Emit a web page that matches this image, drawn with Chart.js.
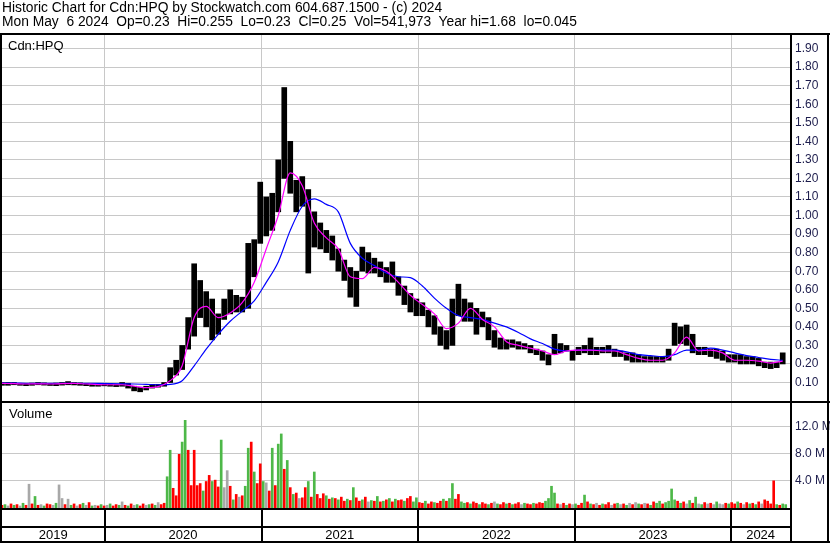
<!DOCTYPE html>
<html>
<head>
<script src="https://cdn.jsdelivr.net/npm/chart.js@4/dist/chart.umd.min.js"></script>
<style>
html, body { margin: 0; padding: 0; background: #fff; }
#wrap { position: relative; width: 830px; height: 543px; overflow: hidden; }
#chart { position: absolute; left: 0; top: 0; }
#hdr {
    position: absolute; left: 2px; top: 1px;
    font: 13.8px 'Liberation Sans', Arial, sans-serif;
    line-height: 14px; white-space: pre; color: #000;
}
</style>
</head>
<body>
<div id="wrap">
    <canvas id="chart" width="830" height="543"></canvas>
    <div id="hdr">Historic Chart for Cdn:HPQ by Stockwatch.com 604.687.1500 - (c) 2024
Mon May  6 2024  Op=0.23  Hi=0.255  Lo=0.23  Cl=0.25  Vol=541,973  Year hi=1.68  lo=0.045</div>
</div>
<script>
// day 0 = 2019-05-07, price bars every 14 days, MAs every 28, volume every 7
const startDay = 0;
const endDay = 1837;
const priceStep = 14;
const maStep = 28;
const volStep = 7;

const yearLabels = ['2019', '2020', '2021', '2022', '2023', '2024'];
const yearStarts = [239, 605, 970, 1335, 1700];
const priceTicks = [0.1, 0.2, 0.3, 0.4, 0.5, 0.6, 0.7, 0.8, 0.9, 1.0, 1.1, 1.2, 1.3, 1.4, 1.5, 1.6, 1.7, 1.8, 1.9];
const volTicks = [4, 8, 12];

const priceHigh = [
    0.10, 0.10, 0.10, 0.095, 0.095, 0.097, 0.10, 0.098, 0.095, 0.097,
    0.10, 0.105, 0.10, 0.098, 0.095, 0.093, 0.093, 0.095, 0.093, 0.09,
    0.10, 0.095, 0.08, 0.075, 0.08, 0.09, 0.09, 0.10, 0.18, 0.22,
    0.30, 0.45, 0.74, 0.65, 0.59, 0.55, 0.47, 0.55, 0.60, 0.57,
    0.56, 0.85, 0.87, 1.18, 1.10, 1.12, 1.30, 1.69, 1.40, 1.19,
    1.21, 1.14, 1.02, 0.96, 0.92, 0.89, 0.82, 0.76, 0.72, 0.70,
    0.83, 0.80, 0.77, 0.75, 0.72, 0.75, 0.67, 0.62, 0.58, 0.55,
    0.53, 0.49, 0.46, 0.40, 0.38, 0.55, 0.63, 0.55, 0.53, 0.50,
    0.48, 0.45, 0.38, 0.34, 0.33, 0.33, 0.32, 0.31, 0.30, 0.28,
    0.27, 0.25, 0.36, 0.31, 0.30, 0.27, 0.29, 0.30, 0.34, 0.29,
    0.29, 0.30, 0.28, 0.27, 0.26, 0.26, 0.25, 0.24, 0.24, 0.24,
    0.24, 0.28, 0.42, 0.40, 0.41, 0.36, 0.29, 0.29, 0.28, 0.28,
    0.27, 0.25, 0.25, 0.25, 0.24, 0.24, 0.23, 0.21, 0.21, 0.21, 0.26
];
const priceLow = [
    0.085, 0.085, 0.088, 0.085, 0.083, 0.085, 0.088, 0.086, 0.084, 0.083,
    0.086, 0.088, 0.087, 0.085, 0.083, 0.08, 0.08, 0.082, 0.08, 0.078,
    0.08, 0.07, 0.055, 0.05, 0.06, 0.07, 0.075, 0.08, 0.10, 0.14,
    0.17, 0.28, 0.35, 0.45, 0.40, 0.33, 0.36, 0.44, 0.47, 0.48,
    0.48, 0.50, 0.67, 0.85, 0.89, 0.92, 1.02, 1.20, 1.12, 1.02,
    1.05, 0.69, 0.83, 0.82, 0.80, 0.76, 0.70, 0.65, 0.56, 0.51,
    0.70, 0.69, 0.69, 0.67, 0.64, 0.64, 0.57, 0.52, 0.48, 0.46,
    0.46, 0.40, 0.36, 0.30, 0.28, 0.30, 0.46, 0.43, 0.43, 0.36,
    0.40, 0.33, 0.29, 0.28, 0.28, 0.29, 0.28, 0.28, 0.26, 0.25,
    0.22, 0.195, 0.25, 0.26, 0.27, 0.22, 0.25, 0.26, 0.25, 0.25,
    0.26, 0.26, 0.24, 0.24, 0.22, 0.21, 0.21, 0.21, 0.21, 0.21,
    0.21, 0.22, 0.30, 0.31, 0.30, 0.26, 0.25, 0.25, 0.24, 0.23,
    0.22, 0.21, 0.21, 0.20, 0.20, 0.20, 0.19, 0.18, 0.175, 0.18, 0.20
];

// short (magenta) and long (blue) moving averages
const maShort = [
    0.095, 0.094, 0.092, 0.093, 0.092, 0.094, 0.095, 0.092, 0.089, 0.088,
    0.088, 0.080, 0.072, 0.078, 0.11, 0.19, 0.45, 0.51, 0.45, 0.475,
    0.53, 0.64, 0.82, 1.00, 1.23, 1.16, 0.96, 0.88, 0.82, 0.67,
    0.66, 0.72, 0.70, 0.64, 0.57, 0.52, 0.47, 0.39, 0.42, 0.50,
    0.44, 0.40, 0.32, 0.30, 0.285, 0.27, 0.25, 0.27, 0.275, 0.275,
    0.27, 0.27, 0.25, 0.23, 0.22, 0.22, 0.26, 0.345, 0.27, 0.275,
    0.26, 0.22, 0.22, 0.215, 0.205, 0.215
];
const maLong = [
    0.097, 0.097, 0.096, 0.096, 0.096, 0.096, 0.096, 0.096, 0.095, 0.094,
    0.093, 0.092, 0.090, 0.088, 0.090, 0.11, 0.19, 0.28, 0.36, 0.43,
    0.485, 0.54, 0.64, 0.75, 0.92, 1.05, 1.09, 1.06, 1.02, 0.85,
    0.77, 0.73, 0.69, 0.67, 0.665, 0.62, 0.555, 0.50, 0.46, 0.45,
    0.44, 0.42, 0.40, 0.37, 0.335, 0.31, 0.28, 0.27, 0.275, 0.275,
    0.275, 0.275, 0.265, 0.25, 0.245, 0.24, 0.25, 0.275, 0.275, 0.285,
    0.275, 0.26, 0.245, 0.235, 0.225, 0.22
];

// volume in millions, colour code per bar: r = down, g = up, s = unchanged
const volume = [
    0.4, 0.5, 0.3, 0.6, 0.4, 0.5, 0.3, 0.7, 0.4, 3.5,
    0.6, 1.7, 0.4, 0.5, 0.3, 0.6, 0.5, 0.4, 0.7, 3.4,
    1.4, 0.5, 1.3, 0.4, 0.6, 0.3, 0.5, 0.7, 0.4, 0.8,
    0.3, 0.4, 0.3, 0.5, 0.3, 0.4, 0.6, 0.3, 0.5, 0.4,
    0.9, 0.4, 0.3, 0.6, 0.4, 0.5, 0.3, 0.6, 0.4, 0.5,
    0.6, 0.4, 0.8, 0.5, 0.7, 4.6, 8.5, 2.9, 1.8, 7.9,
    9.7, 12.9, 8.5, 3.3, 8.5, 3.3, 3.6, 2.5, 3.9, 4.8,
    3.9, 4.1, 3.1, 10.0, 3.0, 5.5, 3.2, 1.2, 2.0, 1.6,
    1.8, 3.2, 8.8, 9.7, 5.3, 3.6, 6.5, 3.9, 3.7, 2.5,
    8.8, 3.3, 9.4, 10.9, 5.7, 7.0, 3.0, 2.0, 2.2, 1.4,
    1.5, 3.0, 3.9, 1.6, 5.3, 2.0, 1.4, 2.1, 1.8, 1.3,
    1.5, 1.4, 1.2, 1.6, 1.0, 1.3, 1.1, 3.0, 1.5, 1.0,
    1.2, 1.6, 0.9, 1.1, 1.0, 1.7, 0.9, 1.0, 1.2, 1.4,
    0.9, 1.3, 1.1, 1.2, 1.0, 1.4, 1.7, 0.9, 1.5, 0.8,
    0.7, 1.0, 0.6, 0.9, 0.8, 0.7, 1.0, 1.3, 1.0, 1.4,
    3.6, 1.3, 2.0, 0.9, 0.7, 0.8, 0.6, 0.9, 0.7, 0.5,
    0.8, 0.6, 0.5, 0.7, 0.9, 0.6, 0.5, 0.8, 0.6, 0.7,
    0.5, 0.6, 0.8, 0.5, 0.7, 0.6, 0.5, 0.7, 0.6, 0.8,
    0.7, 1.0, 1.4, 3.2, 2.2, 0.6, 0.5, 0.7, 0.4, 0.6,
    0.5, 0.6, 0.4, 0.7, 1.9, 0.9, 0.6, 0.5, 0.7, 0.4,
    0.6, 0.5, 0.8, 0.4, 0.6, 0.7, 0.5, 0.6, 0.4, 0.7,
    0.5, 0.8, 0.6, 0.5, 0.7, 0.6, 0.4, 0.9, 0.7, 1.0,
    0.6, 0.8, 1.0, 2.8, 1.2, 1.0, 0.7, 0.9, 0.6, 1.1,
    0.7, 1.6, 0.6, 0.5, 0.8, 0.6, 0.7, 0.5, 0.9, 0.6,
    0.5, 0.7, 0.6, 0.8, 0.6, 0.9, 0.7, 0.5, 0.8, 0.6,
    0.7, 0.5, 0.9, 0.6, 1.2, 1.0, 0.6, 4.0, 0.5, 0.4, 0.6, 0.5
];
const volDir =
    'rgsrgrsgrs' + 'rgrsgrrsgs' + 'srsgrsrgsr' + 'gsrgrsgrrg' + 'srgrsgrrsg' +
    'rgsrrggrrr' + 'ggrrrrrgrr' + 'grrgssrgrs' + 'rggrgrrgsr' + 'grggrgrgrs' +
    'rrgrgrrrgr' + 'grgrrgrgrr' + 'grsgrgrgrg' + 'rgrrgrrggr' + 'rgrrgrrgrg' +
    'grrggrgrrg' + 'rrgrsgrrgr' + 'grrsgrrgrr' + 'rggggrsrgr' + 'sgrrgrgrsr' +
    'grrsrgsrgs' + 'rsgrsrgrgg' + 'rggggrgrsg' + 'rgsgrsrsgs' + 'srgrrgrsrg' +
    'rgrsrrrrgrgg';

const dirColors = { r: '#ff0000', g: '#4db848', s: '#a8a8a8' };
const tickColor = '#1c1c4c';
const gridColor = '#c8c8c8';
const fontFamily = "'Liberation Sans', Arial, sans-serif";

const priceBars = priceHigh.map((hi, i) => ({ x: startDay + i * priceStep, y: [priceLow[i], hi] }));
const shortLine = maShort.map((v, i) => ({ x: startDay + i * maStep, y: v }));
const longLine = maLong.map((v, i) => ({ x: startDay + i * maStep, y: v }));
const volBars = volume.map((v, i) => ({ x: startDay + i * volStep, y: v }));
const volColors = volume.map((v, i) => dirColors[volDir[i]] || dirColors.s);

// frame, bottom year strip and panel captions
const framePlugin = {
    id: 'frame',
    afterDraw(chart) {
        const { ctx, chartArea, scales } = chart;
        const W = chart.width, H = chart.height;
        const right = chartArea.right;
        const sep = scales.yv.top;
        const bot = chartArea.bottom;
        const line = (x1, y1, x2, y2) => {
            ctx.beginPath(); ctx.moveTo(x1, y1); ctx.lineTo(x2, y2); ctx.stroke();
        };
        ctx.save();
        ctx.strokeStyle = '#000';
        ctx.lineWidth = 2;
        line(0, 34, W, 34);
        line(1, 33, 1, H);
        line(right + 1, 33, right + 1, H);
        line(W - 2, 33, W - 2, H);
        line(0, sep, W, sep);
        line(0, bot + 1, right, bot + 1);
        line(0, 527, right, 527);
        line(0, H - 1, W, H - 1);
        yearStarts.forEach(d => {
            const px = Math.round(scales.x.getPixelForValue(d));
            line(px, bot + 1, px, H);
        });

        ctx.fillStyle = '#000';
        ctx.font = '13px ' + fontFamily;
        ctx.textAlign = 'center';
        ctx.textBaseline = 'middle';
        const edges = [scales.x.min, ...yearStarts, scales.x.max];
        yearLabels.forEach((lab, i) => {
            const a = scales.x.getPixelForValue(edges[i]);
            const b = scales.x.getPixelForValue(edges[i + 1]);
            ctx.fillText(lab, (a + b) / 2, 535);
        });
        ctx.textAlign = 'left';
        ctx.textBaseline = 'alphabetic';
        ctx.fillText('Cdn:HPQ', 8, 50);
        ctx.fillText('Volume', 9, 418);
        ctx.restore();
    }
};

new Chart(document.getElementById('chart'), {
    data: {
        datasets: [
            {
                type: 'line', data: shortLine, yAxisID: 'y', order: 1,
                borderColor: '#ff00ff', borderWidth: 1.2, pointRadius: 0,
                cubicInterpolationMode: 'monotone'
            },
            {
                type: 'line', data: longLine, yAxisID: 'y', order: 2,
                borderColor: '#0000ff', borderWidth: 1.2, pointRadius: 0,
                cubicInterpolationMode: 'monotone'
            },
            {
                type: 'bar', data: priceBars, yAxisID: 'y', order: 3,
                backgroundColor: '#000', barThickness: 5, grouped: false
            },
            {
                type: 'bar', data: volBars, yAxisID: 'yv', order: 4,
                backgroundColor: volColors, barThickness: 2, grouped: false
            }
        ]
    },
    options: {
        responsive: false,
        animation: false,
        devicePixelRatio: 1,
        layout: { padding: { top: 35, left: 2, right: 0, bottom: 0 } },
        plugins: { legend: { display: false }, tooltip: { enabled: false } },
        scales: {
            x: {
                type: 'linear', position: 'bottom', min: startDay, max: endDay,
                offset: false,
                afterBuildTicks: s => { s.ticks = yearStarts.map(v => ({ value: v })); },
                afterFit: s => { s.height = 35; },
                ticks: { display: false },
                grid: { color: gridColor, drawTicks: false, offset: false },
                border: { display: false }
            },
            y: {
                type: 'linear', position: 'right', stack: 'panels', stackWeight: 367,
                min: -0.005, max: 1.973,
                afterBuildTicks: s => { s.ticks = priceTicks.map(v => ({ value: v })); },
                afterFit: s => { s.width = 40; },
                ticks: {
                    color: tickColor, padding: 5, autoSkip: false,
                    font: { family: fontFamily, size: 12 },
                    callback: v => Number(v).toFixed(2)
                },
                grid: { color: gridColor, drawTicks: false },
                border: { display: false }
            },
            yv: {
                type: 'linear', position: 'right', stack: 'panels', stackWeight: 106,
                min: 0, max: 15.6,
                afterBuildTicks: s => { s.ticks = volTicks.map(v => ({ value: v })); },
                afterFit: s => { s.width = 40; },
                ticks: {
                    color: tickColor, padding: 5, autoSkip: false,
                    font: { family: fontFamily, size: 12 },
                    callback: v => Number(v).toFixed(1) + ' M'
                },
                grid: { color: gridColor, drawTicks: false },
                border: { display: false }
            }
        }
    },
    plugins: [framePlugin]
});
</script>
</body>
</html>
